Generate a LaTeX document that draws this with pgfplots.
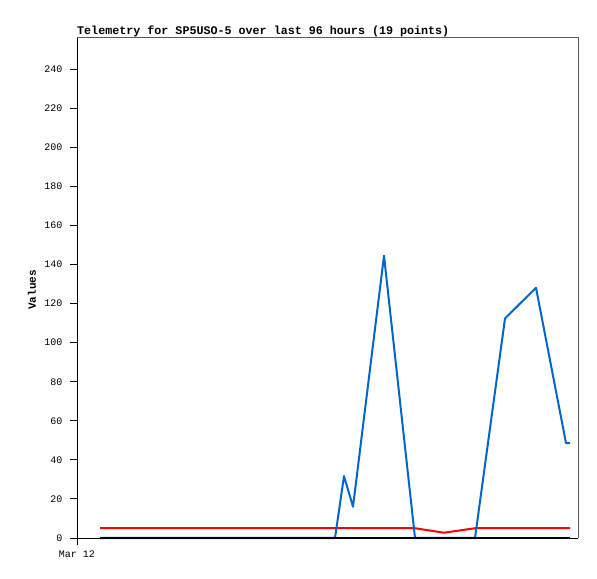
\documentclass[border=0pt]{standalone}
\usepackage{fontspec}
\setmainfont{Liberation Mono}
\usepackage{pgfplots}
\pgfplotsset{compat=1.18}
\definecolor{tblue}{RGB}{0,102,204}
\definecolor{tred}{RGB}{255,0,0}
\definecolor{spine}{RGB}{90,90,90}
\begin{document}
\begin{tikzpicture}[x=1bp,y=1bp]
\useasboundingbox[fill=white] (0,0) rectangle (597,579);
\begin{axis}[at={(77bp,41bp)}, anchor=south west, scale only axis,
  width=501bp, height=500bp,
  xmin=77, xmax=578, ymin=0, ymax=256,
  axis line style={draw=none},
  tick align=outside, tick pos=left,
  major tick length=7bp,
  tick style={black, line width=1bp},
  xtick={77}, xticklabels={Mar 12},
  ytick={0,20,...,240},
  /pgf/number format/assume math mode=true,
  tick label style={font=\fontsize{10bp}{12bp}\selectfont},
  yticklabel style={xshift=-4bp},
  xticklabel style={yshift=-2bp},
  clip=false,
  after end axis/.code={
    \draw[spine, line width=1bp] (rel axis cs:0,1) -- (rel axis cs:1,1) -- (rel axis cs:1,0);
    \draw[black, line width=1bp] (rel axis cs:0,1) -- (rel axis cs:0,0) -- (rel axis cs:1,0);
  }
]
\addplot[tred, line width=2bp, line join=round] coordinates {
(100,5)(130,5)(160,5)(190,5)(220,5)(250,5)(280,5)(310,5)(335,5)(344,5)(353,5)(384,5)(415,5)(444,2.7)(475,5)(505,5)(536,5)(566,5)(570,5)};
\addplot[tblue, line width=2bp, line join=round] coordinates {
(100,0)(130,0)(160,0)(190,0)(220,0)(250,0)(280,0)(310,0)(335,0)(344,31.7)(353,16)(384,144.5)(415,0)(444,0)(475,0)(505,112.4)(536,128.1)(566,48.6)(570,48.6)};
\addplot[black, line width=2bp] coordinates {
(100,0)(130,0)(160,0)(190,0)(220,0)(250,0)(280,0)(310,0)(335,0)(344,0)(353,0)(384,0)(415,0)(444,0)(475,0)(505,0)(536,0)(566,0)(570,0)};
\end{axis}
\node[anchor=base west, inner sep=0] at (77,544) {\fontsize{11.7bp}{13bp}\selectfont\bfseries Telemetry for SP5USO-5 over last 96 hours (19 points)};
\node[rotate=90, inner sep=0] at (32,289) {\fontsize{11bp}{13bp}\selectfont\bfseries Values};
\end{tikzpicture}
\end{document}
